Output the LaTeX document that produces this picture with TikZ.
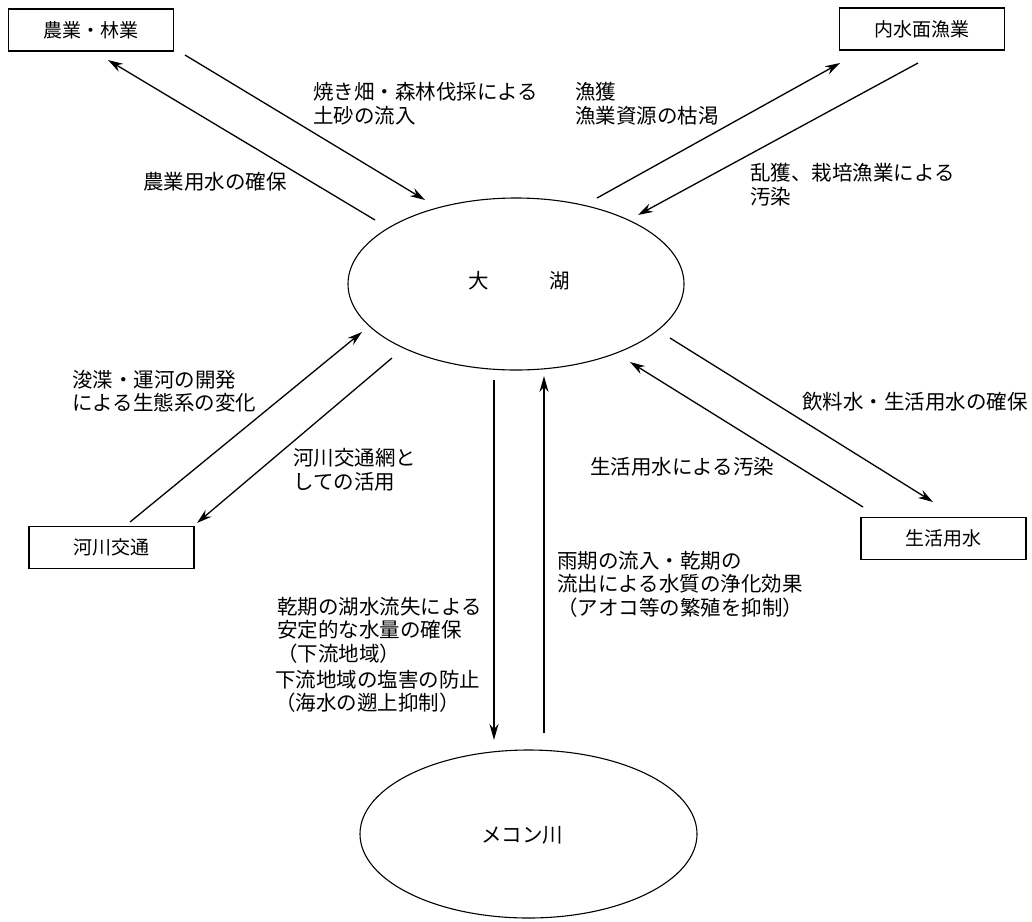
\documentclass[tikz,border=0pt]{standalone}
\usepackage{fontspec}
\newfontfamily\jp{Noto Sans CJK JP}
\usetikzlibrary{arrows.meta}
\begin{document}
\begin{tikzpicture}[x=1pt,y=-1pt,
  box/.style={draw,line width=1.1pt,minimum width=165pt,minimum height=42pt,inner sep=0pt,font=\jp\fontsize{19}{22}\selectfont},
  oval/.style={draw,ellipse,line width=1.1pt,inner sep=0pt},
  lbl/.style={anchor=west,align=left,inner sep=0pt,font=\jp\fontsize{20.5}{23.5}\selectfont},
  arr/.style={line width=1.3pt,-{Stealth[length=15pt,width=9pt]}},
  varr/.style={line width=2pt,-{Stealth[length=16pt,width=9pt]}}]
\useasboundingbox (0,0) rectangle (1032,921);
% boxes
\node[box] (agri) at (91,30) {農業・林業};
\node[box] (fish) at (922,29) {内水面漁業};
\node[box] (river) at (111.5,547.5) {河川交通};
\node[box] (life) at (943.5,538.5) {生活用水};
% ellipses
\draw[line width=1.1pt] (516,284) ellipse [x radius=168, y radius=86];
\node[inner sep=0pt,font=\jp\fontsize{20.5}{24}\selectfont] (lake) at (519,281) {大\hspace{61pt}湖};
\draw[line width=1.1pt] (528.5,834) ellipse [x radius=168.5, y radius=84];
\node[inner sep=0pt,font=\jp\fontsize{20.5}{24}\selectfont] (mekong) at (522,835) {メコン川};
% arrow end coordinates
\coordinate (a1s) at (375,220); \coordinate (a1e) at (108,60);
\coordinate (a2s) at (185,55);  \coordinate (a2e) at (425,200);
\coordinate (a3s) at (597,198); \coordinate (a3e) at (840,63);
\coordinate (a4s) at (918,63);  \coordinate (a4e) at (638,215);
\coordinate (a5s) at (130,522); \coordinate (a5e) at (362,332);
\coordinate (a6s) at (392,358); \coordinate (a6e) at (197,523);
\coordinate (a7s) at (670,338); \coordinate (a7e) at (933,502);
\coordinate (a8s) at (863,507); \coordinate (a8e) at (630,362);
\coordinate (v1s) at (494,380); \coordinate (v1e) at (494,740);
\coordinate (v2s) at (544,733); \coordinate (v2e) at (544,376);
% arrows
\draw[arr] (a1s) -- (a1e);
\draw[arr] (a2s) -- (a2e);
\draw[arr] (a3s) -- (a3e);
\draw[arr] (a4s) -- (a4e);
\draw[arr] (a5s) -- (a5e);
\draw[arr] (a6s) -- (a6e);
\draw[arr] (a7s) -- (a7e);
\draw[arr] (a8s) -- (a8e);
\draw[varr] (v1s) -- (v1e);
\draw[varr] (v2s) -- (v2e);
% labels
\node[lbl] (l1) at (313,103.5) {焼き畑・森林伐採による\\土砂の流入};
\node[lbl] (l2) at (575,103.5) {漁獲\\漁業資源の枯渇};
\node[lbl] (l3) at (143,182) {農業用水の確保};
\node[lbl] (l4) at (750,184.5) {乱獲、栽培漁業による\\汚染};
\node[lbl] (l5) at (72,391) {浚渫・運河の開発\\による生態系の変化};
\node[lbl] (l6) at (293,469.5) {河川交通網と\\しての活用};
\node[lbl] (l7) at (802,402) {飲料水・生活用水の確保};
\node[lbl] (l8) at (590,467) {生活用水による汚染};
\node[lbl] (l9) at (557,584) {雨期の流入・乾期の\\流出による水質の浄化効果\\（アオコ等の繁殖を抑制）};
\node[lbl] (l10) at (277,630) {乾期の湖水流失による\\安定的な水量の確保\\（下流地域）};
\node[lbl] (l11) at (275,691.5) {下流地域の塩害の防止\\（海水の遡上抑制）};
\end{tikzpicture}
\end{document}
